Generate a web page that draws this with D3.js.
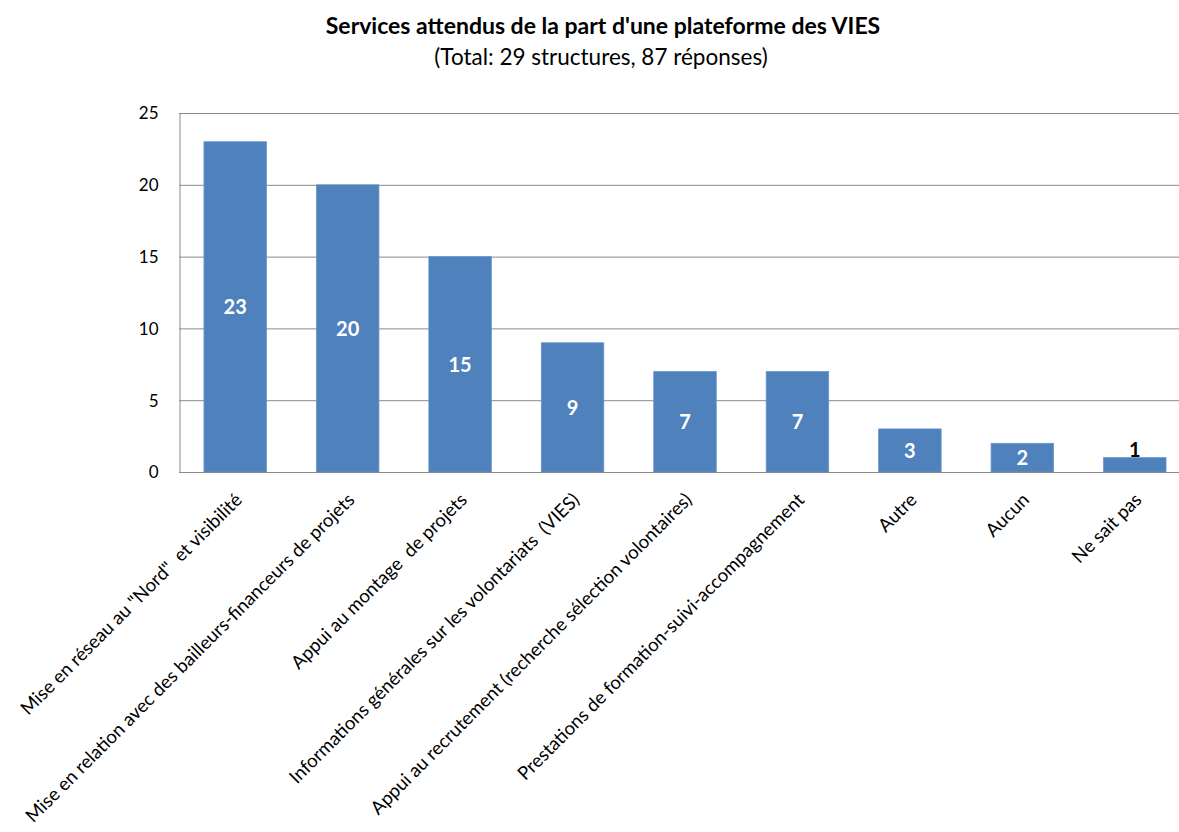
<!DOCTYPE html>
<html><head><meta charset="utf-8">
<script src="https://cdn.jsdelivr.net/npm/d3@7/dist/d3.min.js"></script>
<style>
html,body{margin:0;padding:0;background:#fff;}
svg{display:block;font-family:Lato,"Open Sans",sans-serif;}
text{white-space:pre;}
</style></head>
<body>
<svg id="chart" width="1179" height="832"></svg>
<script>
const categories = [
  'Mise en réseau au "Nord"  et visibilité',
  'Mise en relation avec des bailleurs-financeurs de projets',
  'Appui au montage  de projets',
  'Informations générales sur les volontariats  (VIES)',
  'Appui au recrutement (recherche sélection volontaires)',
  'Prestations de formation-suivi-accompagnement',
  'Autre',
  'Aucun',
  'Ne sait pas'
];
const values = [23, 20, 15, 9, 7, 7, 3, 2, 1];
const yTicks = [0, 5, 10, 15, 20, 25];
const titleText = "Services attendus de la part d'une plateforme des VIES";
const subtitleText = "(Total: 29 structures, 87 réponses)";

const svg = d3.select("#chart");
const pLeft = 179, pRight = 1191, pTop = 113, pBottom = 472;

const x = d3.scaleBand().domain(categories).range([pLeft, pRight]).paddingInner(0.444).paddingOuter(0.222);
const y = d3.scaleLinear().domain([0, 25]).range([pBottom, pTop]);

// gridlines
svg.append("g").selectAll("line").data(yTicks).join("line")
  .attr("x1", pLeft).attr("x2", 1179)
  .attr("y1", d => y(d) + 0.5).attr("y2", d => y(d) + 0.5)
  .attr("stroke", "#8a8a8a").attr("stroke-width", 1);

// y axis
const yAxis = d3.axisLeft(y).tickValues(yTicks).tickSize(0).tickPadding(21);
const gy = svg.append("g").attr("transform", `translate(${pLeft + 0.5},0.5)`).call(yAxis);
gy.select(".domain").attr("stroke", "#8a8a8a");
gy.selectAll("text").attr("font-size", 17).attr("fill", "#000").attr("font-family", "Lato");

// bars
svg.append("g").selectAll("rect").data(values).join("rect")
  .attr("x", (d, i) => x(categories[i]))
  .attr("width", x.bandwidth())
  .attr("y", d => y(d))
  .attr("height", d => y(0) - y(d))
  .attr("fill", "#4f81bd")
  .attr("stroke", "#6a95c9").attr("stroke-width", 0.8);

// x axis line
svg.append("line").attr("x1", pLeft).attr("x2", 1179)
  .attr("y1", pBottom + 0.5).attr("y2", pBottom + 0.5)
  .attr("stroke", "#8a8a8a");

// value labels
const small = d => (y(0) - y(d) < 25);
svg.append("g").selectAll("text").data(values).join("text")
  .attr("x", (d, i) => x(categories[i]) + x.bandwidth() / 2)
  .attr("y", d => small(d) ? y(d) - 1 : (y(d) + y(0)) / 2)
  .attr("dy", d => small(d) ? "0" : "0.36em")
  .attr("text-anchor", "middle")
  .attr("font-size", 20).attr("font-weight", "bold")
  .attr("fill", d => small(d) ? "#000" : "#fff")
  .text(d => d);

// category labels
svg.append("g").selectAll("text").data(categories).join("text")
  .attr("transform", d => `translate(${x(d) + x.bandwidth() / 2 + 8},${pBottom + 29}) rotate(-45)`)
  .attr("text-anchor", "end")
  .attr("font-size", 18.6)
  .attr("fill", "#000")
  .text(d => d);

// title
svg.append("text").attr("x", 603).attr("y", 34).attr("text-anchor", "middle")
  .attr("font-size", 23).attr("font-weight", "bold").text(titleText);
svg.append("text").attr("x", 601).attr("y", 65).attr("text-anchor", "middle")
  .attr("font-size", 22.5).text(subtitleText);
</script>
</body></html>
